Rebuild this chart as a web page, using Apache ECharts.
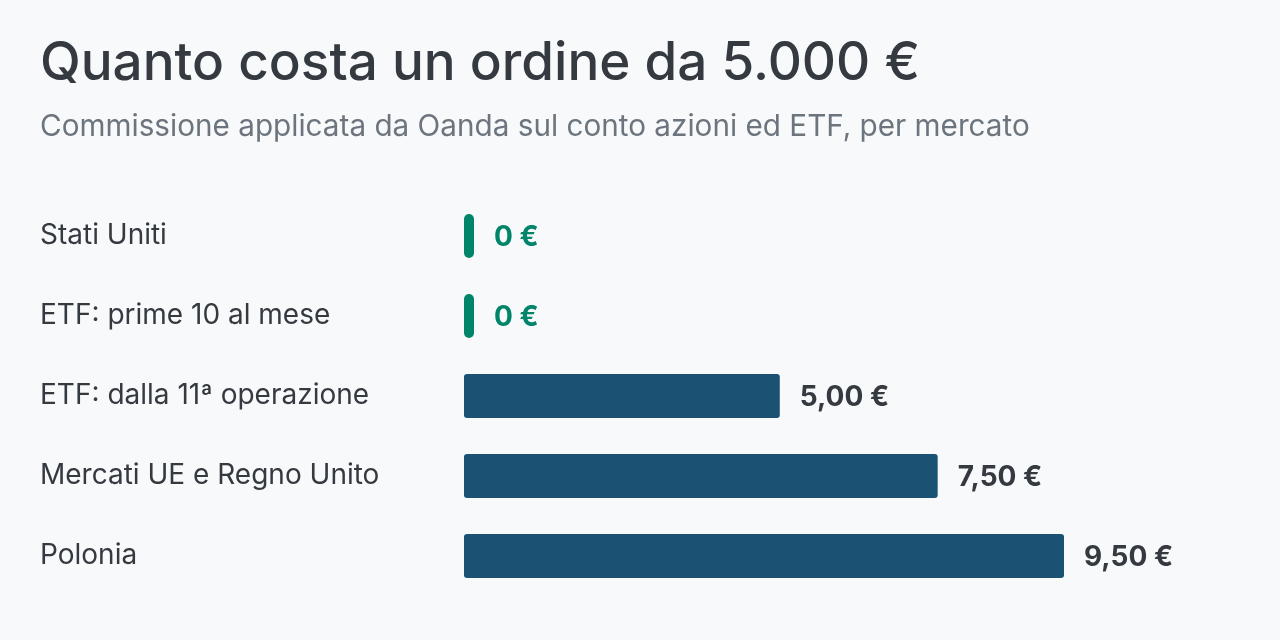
<!DOCTYPE html>
<html lang="it">
<head>
    <meta charset="UTF-8">
    <title>Quanto costa un ordine da 5.000 €</title>
    <style>
        html, body { margin: 0; padding: 0; background: #f8f9fa; }
        #chart { width: 1280px; height: 640px; }
    </style>
</head>
<body>
<script src="https://cdn.jsdelivr.net/npm/echarts@6/dist/echarts.min.js"></script>
<div id="chart"></div>
<script type="text/javascript">
    // dati
    var categories = ['Stati Uniti', 'ETF: prime 10 al mese', 'ETF: dalla 11ª operazione', 'Mercati UE e Regno Unito', 'Polonia'];
    var values = [0, 0, 5, 7.5, 9.5];
    var valueLabels = ['0 €', '0 €', '5,00 €', '7,50 €', '9,50 €'];

    var FONT = 'Inter, "Noto Sans", sans-serif';
    var BLUE = '#1b5274';
    var GREEN = '#00856a';
    var DARK = '#343a40';

    var barData = values.map(function (v, i) {
        var free = v === 0;
        return {
            value: v,
            itemStyle: { color: free ? GREEN : BLUE, borderRadius: free ? 5 : 3 },
            label: { color: free ? GREEN : DARK, formatter: valueLabels[i] }
        };
    });

    var myChart = echarts.init(document.getElementById('chart'));
    myChart.setOption({
        backgroundColor: '#f8f9fa',
        animation: false,
        title: {
            text: 'Quanto costa un ordine da 5.000 €',
            subtext: 'Commissione applicata da Oanda sul conto azioni ed ETF, per mercato',
            left: 35,
            top: 33,
            itemGap: 21,
            textStyle: { fontFamily: FONT, fontSize: 53, fontWeight: 500, color: DARK },
            subtextStyle: { fontFamily: FONT, fontSize: 29.7, color: '#6c757d' }
        },
        grid: { left: 464, width: 600, top: 196, height: 400 },
        xAxis: {
            type: 'value',
            min: 0,
            max: 9.5,
            show: false
        },
        yAxis: {
            type: 'category',
            data: categories,
            inverse: true,
            axisLine: { show: false },
            axisTick: { show: false },
            axisLabel: {
                align: 'left',
                margin: 424,
                fontFamily: FONT,
                fontSize: 28,
                lineHeight: 32,
                padding: [5, 0, 0, 0],
                color: DARK
            }
        },
        series: [{
            type: 'bar',
            data: barData,
            barWidth: 44,
            barMinHeight: 10,
            label: {
                show: true,
                position: 'right',
                distance: 20,
                offset: [0, 2],
                fontFamily: FONT,
                fontSize: 28,
                fontWeight: 'bold'
            }
        }]
    });
</script>
</body>
</html>
